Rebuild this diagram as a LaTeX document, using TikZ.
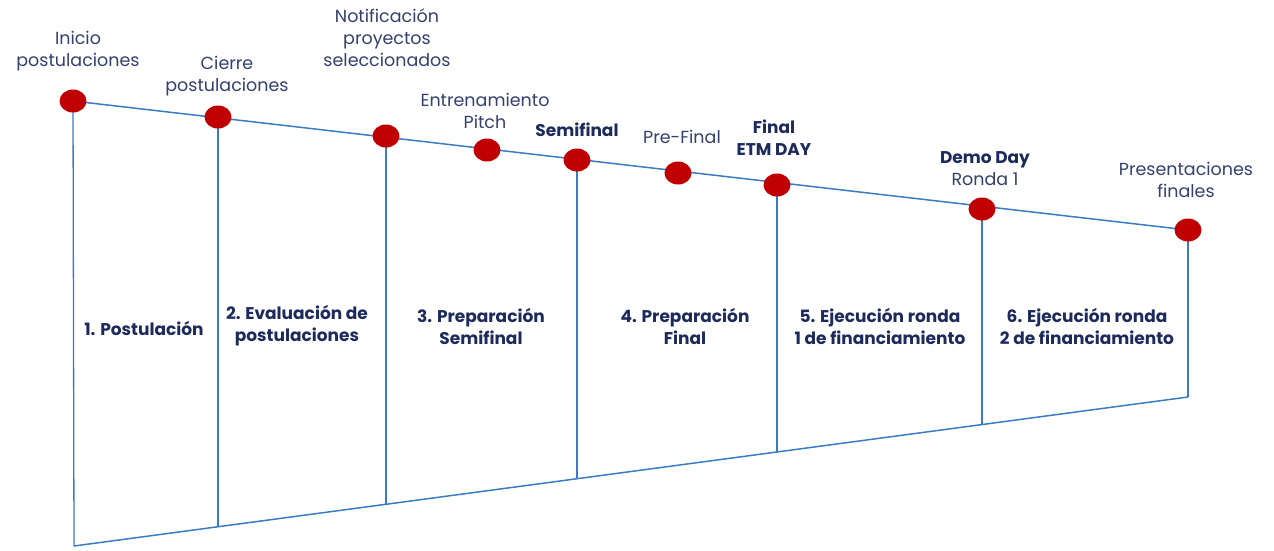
\documentclass[tikz,border=0pt]{standalone}
\usepackage{fontspec}
\setmainfont{Poppins}
\usetikzlibrary{shapes.geometric}
\definecolor{linecol}{HTML}{3A7CC4}
\definecolor{dotcol}{HTML}{C00000}
\definecolor{txtcol}{HTML}{34406E}
\definecolor{boldcol}{HTML}{1C2A5C}
\tikzset{
  dot/.style={ellipse, fill=dotcol, minimum width=27pt, minimum height=23pt, inner sep=0pt},
  tline/.style={draw=linecol, line width=1.5pt},
  vline/.style={draw=linecol, line width=1.3pt},
  toplabel/.style={align=center, text=txtcol, font=\fontsize{17.5}{22}\selectfont, inner sep=0pt},
  boldlabel/.style={align=center, text=boldcol, font=\fontsize{17}{22}\selectfont\bfseries, inner sep=0pt},
}
\begin{document}
\begin{tikzpicture}[x=1pt,y=-1pt]
\useasboundingbox (0,0) rectangle (1274,550);
% dot centres on top line
\coordinate (p1) at (73,101);
\coordinate (p2) at (218,117);
\coordinate (p3) at (386,136);
\coordinate (p4) at (487,150);
\coordinate (p5) at (577,160);
\coordinate (p6) at (678,173);
\coordinate (p7) at (777,185);
\coordinate (p8) at (982,209);
\coordinate (p9) at (1188,230);
% bottom line points
\coordinate (b1) at (74,546);
\coordinate (b2) at (218,527);
\coordinate (b3) at (386,504);
\coordinate (b5) at (577,479);
\coordinate (b7) at (777,452);
\coordinate (b8) at (982,424);
\coordinate (b9) at (1188,397);
% lines
\draw[tline] (p1) -- (p9);
\draw[tline] (b1) -- (b9);
\foreach \i in {1,2,3,5,7,8,9} {\draw[vline] (p\i) -- (b\i);}
% dots
\foreach \i in {1,...,9} {\node[dot] (d\i) at (p\i) {};}
% top labels
\node[toplabel] (t1) at (78,51) {Inicio\\postulaciones};
\node[toplabel] (t2) at (227,76) {Cierre\\postulaciones};
\node[toplabel] (t3) at (387,38) {Notificación\\proyectos\\seleccionados};
\node[toplabel] (t4) at (485,111) {Entrenamiento\\Pitch};
\node[boldlabel] (t5) at (577,130) {Semifinal};
\node[toplabel] (t6) at (682,137) {Pre-Final};
\node[boldlabel] (t7) at (774,138) {Final\\ETM DAY};
\node[align=center, inner sep=0pt, font=\fontsize{17}{22}\selectfont] (t8) at (985,169) {\textcolor{boldcol}{\bfseries Demo Day}\\\textcolor{txtcol}{\fontsize{17.5}{22}\selectfont Ronda 1}};
\node[toplabel] (t9) at (1186,180) {Presentaciones\\finales};
% stage labels
\node[boldlabel] (s1) at (144,328) {1. Postulación};
\node[boldlabel] (s2) at (297,326) {2. Evaluación de\\postulaciones};
\node[boldlabel] (s3) at (481,326) {3. Preparación\\Semifinal};
\node[boldlabel] (s4) at (685,326) {4. Preparación\\Final};
\node[boldlabel] (s5) at (880,326) {5. Ejecución ronda\\1 de financiamiento};
\node[boldlabel] (s6) at (1087,326) {6. Ejecución ronda\\2 de financiamiento};
\end{tikzpicture}
\end{document}
